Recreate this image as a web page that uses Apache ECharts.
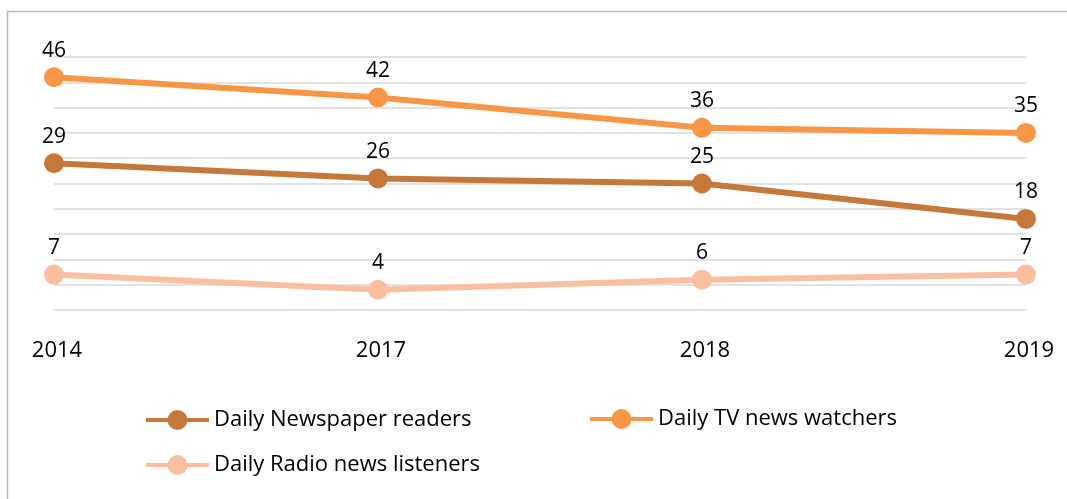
<!DOCTYPE html>
<html>
<head>
<meta charset="utf-8">
<script src="https://cdn.jsdelivr.net/npm/echarts@6/dist/echarts.min.js"></script>
<style>
  html, body { margin: 0; padding: 0; background: #fff; }
  #chart { width: 1067px; height: 499px; }
</style>
</head>
<body>
<div id="chart"></div>
<script>
// Survey years on the horizontal axis
const years = ['2014', '2017', '2018', '2019'];

// Share of people (%) for each daily news habit
const newspaperReaders = [29, 26, 25, 18];
const tvWatchers = [46, 42, 36, 35];
const radioListeners = [7, 4, 6, 7];

const seriesNames = ['Daily Newspaper readers', 'Daily TV news watchers', 'Daily Radio news listeners'];
const seriesColors = ['#C6773A', '#F79646', '#FABF9F'];

const textFont = "'Open Sans', 'Noto Sans', sans-serif";

function lineSeries(name, values, color) {
  return {
    name: name,
    type: 'line',
    data: values,
    symbol: 'circle',
    symbolSize: 20,
    lineStyle: { color: color, width: 6 },
    itemStyle: { color: color },
    label: {
      show: true,
      position: 'top',
      distance: 6,
      color: '#000',
      fontFamily: textFont,
      fontSize: 21
    },
    emphasis: { disabled: true },
    animation: false
  };
}

// One legend box per entry so each can sit where it belongs
function legendAt(name, left, top) {
  return {
    data: [name],
    left: left,
    top: top,
    itemWidth: 63,
    itemHeight: 25,
    itemGap: 0,
    padding: 0,
    selectedMode: false,
    lineStyle: { width: 4 },
    textStyle: { fontFamily: textFont, fontSize: 22, color: '#000' }
  };
}

const chart = echarts.init(document.getElementById('chart'), null, { renderer: 'canvas' });

chart.setOption({
  backgroundColor: '#fff',
  animation: false,
  graphic: [{
    type: 'rect',
    shape: { x: 7.5, y: 11.5, width: 1200, height: 700 },
    style: { fill: 'none', stroke: '#b8b8b8', lineWidth: 1.5 },
    silent: true
  }],
  legend: [
    legendAt(seriesNames[0], 144, 409),
    legendAt(seriesNames[1], 588, 408),
    legendAt(seriesNames[2], 144, 454)
  ],
  grid: { left: 54, top: 57, width: 972, height: 253 },
  xAxis: {
    type: 'category',
    data: years,
    boundaryGap: false,
    axisLine: { show: false },
    axisTick: { show: false },
    axisLabel: {
      margin: 30,
      color: '#000',
      fontFamily: textFont,
      fontSize: 22,
      padding: [0, 0, 0, 6]
    },
    splitLine: { show: false }
  },
  yAxis: {
    type: 'value',
    min: 0,
    max: 50,
    interval: 5,
    axisLine: { show: false },
    axisTick: { show: false },
    axisLabel: { show: false },
    splitLine: { lineStyle: { color: '#d9d9d9', width: 1.5 } }
  },
  series: [
    lineSeries(seriesNames[0], newspaperReaders, seriesColors[0]),
    lineSeries(seriesNames[1], tvWatchers, seriesColors[1]),
    lineSeries(seriesNames[2], radioListeners, seriesColors[2])
  ]
});
</script>
</body>
</html>
